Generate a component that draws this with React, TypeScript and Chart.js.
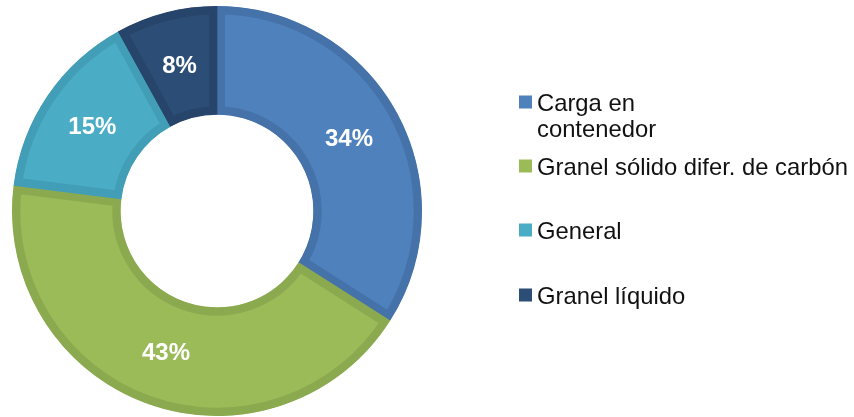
import React, { useEffect, useRef } from "react";
import { Chart, registerables } from "chart.js";

Chart.register(...registerables);

const categories: string[][] = [
  ["Carga en", "contenedor"],
  ["Granel sólido difer. de carbón"],
  ["General"],
  ["Granel líquido"],
];
const shares: number[] = [34, 43, 15, 8];
const fillColors: string[] = ["#4F81BD", "#9BBB59", "#4BACC6", "#2C4D75"];
const edgeColors: string[] = ["#4572A9", "#8BAA4F", "#429EB7", "#27446A"];
const percentLabels: string[] = ["34%", "43%", "15%", "8%"];

const legendPlugin = {
  id: "sideLegend",
  afterDraw(chart: any) {
    const ctx = chart.ctx;
    const labels = chart.data.labels as string[][];
    const colors = chart.data.datasets[0].backgroundColor as string[];
    const centers = [102, 166, 230, 295];
    ctx.save();
    ctx.font = "23.8px 'Liberation Sans', Arial, sans-serif";
    ctx.textAlign = "left";
    ctx.textBaseline = "alphabetic";
    labels.forEach((lines, i) => {
      const cy = centers[i];
      ctx.fillStyle = colors[i];
      ctx.fillRect(519, cy - 6.5, 13, 13);
      ctx.fillStyle = "#111111";
      lines.forEach((line, j) => {
        ctx.fillText(line, 537, cy + 8.5 + j * 26);
      });
    });
    ctx.restore();
  },
};

const valuePlugin = {
  id: "sliceValues",
  afterDatasetsDraw(chart: any) {
    const ctx = chart.ctx;
    const meta = chart.getDatasetMeta(0);
    ctx.save();
    ctx.font = "bold 24px 'Liberation Sans', Arial, sans-serif";
    ctx.fillStyle = "#FFFFFF";
    ctx.textAlign = "center";
    ctx.textBaseline = "middle";
    meta.data.forEach((arc: any, i: number) => {
      const p = arc.tooltipPosition(false);
      ctx.fillText(percentLabels[i], p.x, p.y + 1);
    });
    ctx.restore();
  },
};

export default function App() {
  const ref = useRef<HTMLCanvasElement | null>(null);
  useEffect(() => {
    if (!ref.current) return;
    const chart = new Chart(ref.current, {
      type: "doughnut",
      data: {
        labels: categories as any,
        datasets: [
          {
            data: shares,
            backgroundColor: fillColors,
            borderColor: edgeColors,
            borderWidth: 8,
            borderAlign: "inner",
            hoverOffset: 0,
          } as any,
        ],
      },
      options: {
        animation: false,
        responsive: false,
        maintainAspectRatio: false,
        cutout: "47%",
        rotation: 0,
        layout: { padding: { left: 12, right: 432, top: 6, bottom: 4 } },
        plugins: {
          legend: { display: false },
          tooltip: { enabled: false },
        },
      },
      plugins: [valuePlugin, legendPlugin],
    });
    return () => chart.destroy();
  }, []);
  return (
    <div style={{ position: "fixed", left: 0, top: 0, width: 854, height: 420, background: "#ffffff" }}>
      <canvas ref={ref} width={854} height={420} style={{ width: 854, height: 420, display: "block" }} />
    </div>
  );
}
